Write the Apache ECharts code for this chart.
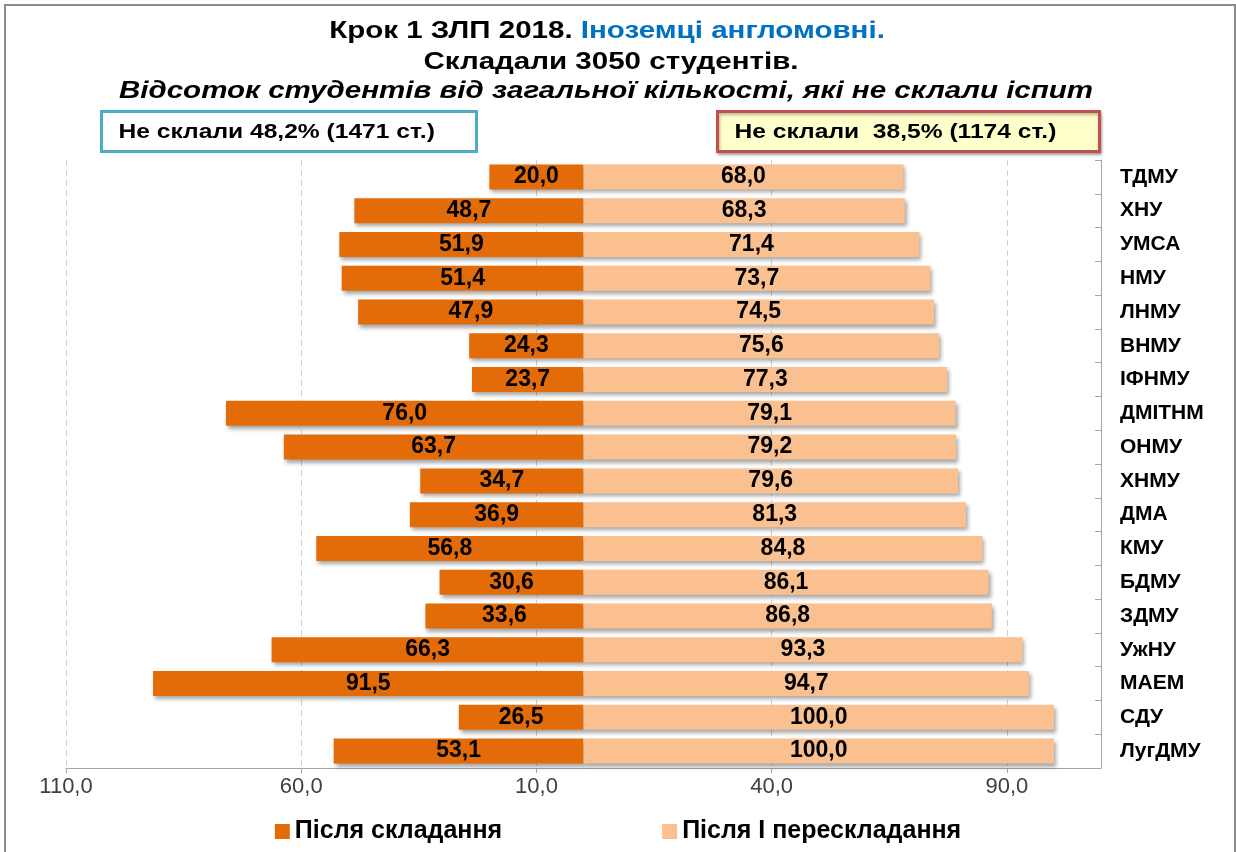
<!DOCTYPE html>
<html>
<head>
<meta charset="utf-8">
<script src="https://cdn.jsdelivr.net/npm/echarts@6/dist/echarts.min.js"></script>
<style>
    html, body { margin: 0; padding: 0; background: #fff; }
    #main { width: 1236px; height: 852px; }
</style>
</head>
<body>
<div id="main"></div>
<script>
// дані
const universities = ['ТДМУ', 'ХНУ', 'УМСА', 'НМУ', 'ЛНМУ', 'ВНМУ', 'ІФНМУ', 'ДМІТНМ', 'ОНМУ', 'ХНМУ',
    'ДМА', 'КМУ', 'БДМУ', 'ЗДМУ', 'УжНУ', 'МАЕМ', 'СДУ', 'ЛугДМУ'];
const afterExam = [20.0, 48.7, 51.9, 51.4, 47.9, 24.3, 23.7, 76.0, 63.7, 34.7,
    36.9, 56.8, 30.6, 33.6, 66.3, 91.5, 26.5, 53.1];
const afterRetake = [68.0, 68.3, 71.4, 73.7, 74.5, 75.6, 77.3, 79.1, 79.2, 79.6,
    81.3, 84.8, 86.1, 86.8, 93.3, 94.7, 100.0, 100.0];
const seriesNames = ['Після складання', 'Після І перескладання'];
const titleLines = ['Крок 1 ЗЛП 2018. ', 'Іноземці англомовні.', 'Складали 3050 студентів.',
    'Відсоток студентів від загальної кількості, які не склали іспит'];
const boxTexts = ['Не склали 48,2% (1471 ст.)', 'Не склали  38,5% (1174 ст.)'];

const FONT = '"Liberation Sans", Arial, sans-serif';
const fmt = (v) => Math.abs(v).toFixed(1).replace('.', ',');

// картинка трохи розтягнута по горизонталі
const STRETCH = 1.23;

const barShadow = {
    shadowBlur: 4,
    shadowOffsetX: 2,
    shadowOffsetY: 3,
    shadowColor: 'rgba(0,0,0,0.35)'
};

const barLabel = {
    show: true,
    position: 'inside',
    formatter: (p) => fmt(p.value),
    color: '#000',
    fontSize: 23,
    fontWeight: 'bold',
    fontFamily: FONT
};

let option = {
    backgroundColor: '#fff',
    animation: false,
    textStyle: { fontFamily: FONT },
    legend: {
        top: 814,
        left: 'center',
        itemGap: 160,
        itemWidth: 15,
        itemHeight: 15,
        icon: 'rect',
        textStyle: { fontFamily: FONT, fontSize: 25, fontWeight: 'bold', color: '#000' },
        data: seriesNames
    },
    grid: { left: 66, right: 135, top: 160, bottom: 84 },
    xAxis: {
        type: 'value',
        min: -110,
        max: 110,
        interval: 50,
        axisLine: { show: true, lineStyle: { color: '#a6a6a6' } },
        axisTick: { show: true, length: 5, lineStyle: { color: '#a6a6a6' } },
        axisLabel: {
            formatter: fmt, color: '#404040', fontSize: 22, fontFamily: FONT, margin: 8,
            showMaxLabel: false
        },
        splitLine: { show: true, lineStyle: { color: '#cfcfcf', type: [6, 4] } }
    },
    yAxis: {
        type: 'category',
        position: 'right',
        inverse: true,
        data: universities,
        axisLine: { show: true, onZero: false, lineStyle: { color: '#a6a6a6' } },
        axisTick: { show: true, inside: true, length: 6, lineStyle: { color: '#a6a6a6' } },
        axisLabel: { color: '#000', fontSize: 21, fontWeight: 'bold', fontFamily: FONT, margin: 19 }
    },
    series: [
        {
            name: seriesNames[0],
            type: 'bar',
            stack: 'total',
            barWidth: 25,
            data: afterExam.map(v => -v),
            itemStyle: Object.assign({ color: '#e36c09' }, barShadow),
            label: barLabel
        },
        {
            name: seriesNames[1],
            type: 'bar',
            stack: 'total',
            barWidth: 25,
            data: afterRetake,
            itemStyle: Object.assign({ color: '#fac090' }, barShadow),
            label: barLabel
        }
    ],
    graphic: [
        {
            type: 'rect',
            silent: true,
            shape: { x: 5, y: 5, width: 1230, height: 870 },
            style: { fill: 'none', stroke: '#8c8c8c', lineWidth: 2 }
        },
        {
            type: 'text',
            x: 607, y: 31,
            scaleX: STRETCH,
            style: {
                text: '{a|' + titleLines[0] + '}{b|' + titleLines[1] + '}',
                align: 'center', verticalAlign: 'middle',
                rich: {
                    a: { fontFamily: FONT, fontSize: 24, fontWeight: 'bold', fill: '#000' },
                    b: { fontFamily: FONT, fontSize: 24, fontWeight: 'bold', fill: '#0070c0' }
                }
            }
        },
        {
            type: 'text',
            x: 611, y: 62,
            scaleX: STRETCH,
            style: {
                text: titleLines[2], fill: '#000', font: 'bold 24px ' + FONT,
                align: 'center', verticalAlign: 'middle'
            }
        },
        {
            type: 'text',
            x: 606, y: 91,
            scaleX: STRETCH,
            style: {
                text: titleLines[3], fill: '#000', font: 'italic bold 24px ' + FONT,
                align: 'center', verticalAlign: 'middle'
            }
        },
        {
            type: 'group',
            left: 100,
            top: 110,
            children: [
                {
                    type: 'rect',
                    shape: { x: 0, y: 0, width: 375, height: 40 },
                    style: { fill: '#fff', stroke: '#4bacc6', lineWidth: 3 }
                },
                {
                    type: 'text',
                    x: 17, y: 21,
                    scaleX: STRETCH,
                    style: {
                        text: boxTexts[0], fill: '#000', font: 'bold 20px ' + FONT,
                        verticalAlign: 'middle'
                    }
                }
            ]
        },
        {
            type: 'group',
            left: 716,
            top: 110,
            children: [
                {
                    type: 'rect',
                    shape: { x: 0, y: 0, width: 382, height: 40 },
                    style: {
                        fill: '#ffffcc', stroke: '#c0504d', lineWidth: 3,
                        shadowBlur: 3, shadowOffsetX: 1, shadowOffsetY: 2, shadowColor: 'rgba(0,0,0,0.3)'
                    }
                },
                {
                    type: 'text',
                    x: 17, y: 21,
                    scaleX: STRETCH,
                    style: {
                        text: boxTexts[1], fill: '#000', font: 'bold 20px ' + FONT,
                        verticalAlign: 'middle'
                    }
                }
            ]
        }
    ]
};

let myChart = echarts.init(document.getElementById('main'));
myChart.setOption(option);
</script>
</body>
</html>
